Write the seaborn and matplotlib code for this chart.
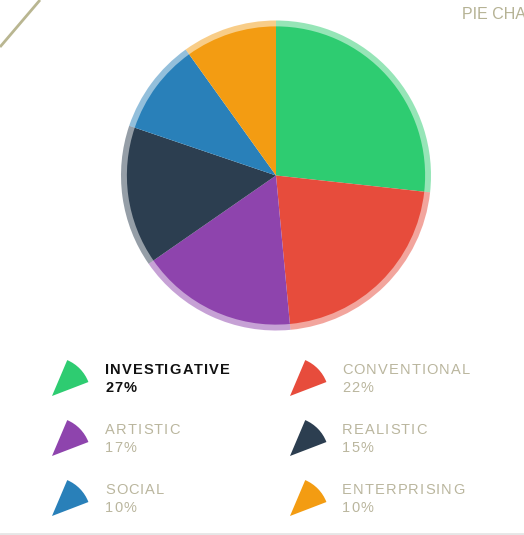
import matplotlib
matplotlib.use("Agg")
import matplotlib.pyplot as plt
from matplotlib.patches import Wedge
import seaborn as sns

# data
labels = ["INVESTIGATIVE", "CONVENTIONAL", "ARTISTIC", "REALISTIC", "SOCIAL", "ENTERPRISING"]
shares = [27, 22, 17, 15, 10, 10]
# pie order (clockwise from 12 o'clock)
pie_order = ["INVESTIGATIVE", "CONVENTIONAL", "ARTISTIC", "REALISTIC", "SOCIAL", "ENTERPRISING"]
palette = sns.color_palette(["#2ecc71", "#e74c3c", "#8e44ad", "#2c3e50", "#2980b9", "#f39c12"])
highlight = "INVESTIGATIVE"
title_text = "PIE CHART"

sns.set_theme(style="white")
plt.rcParams["font.family"] = ["Liberation Sans", "DejaVu Sans"]

W, H = 524, 535
fig = plt.figure(figsize=(W / 100, H / 100), dpi=100)
fig.patch.set_facecolor("white")
renderer = fig.canvas.get_renderer()

# overlay axes in pixel coords (y measured from top)
ov = fig.add_axes([0, 0, 1, 1])
ov.set_xlim(0, W)
ov.set_ylim(H, 0)
ov.axis("off")


def spaced_text(x, y, s, spacing=1.1, **kw):
    # letter-spaced text, one glyph at a time
    for ch in s:
        t = ov.text(x, y, ch, va="baseline", ha="left", **kw)
        w = t.get_window_extent(renderer).width
        if ch == " ":
            w = kw.get("fontsize", 10) * 0.4
        x += w + spacing


# pie axes
cx, cy, r_out = 276, 175.5, 155
pax = fig.add_axes([(cx - r_out) / W, 1 - (cy + r_out) / H, 2 * r_out / W, 2 * r_out / H])
vals = [shares[labels.index(n)] for n in pie_order]
cols = [palette[labels.index(n)] for n in pie_order]
pax.pie(vals, colors=cols, startangle=90, counterclock=False, radius=1.0,
        wedgeprops=dict(width=0.045, alpha=0.5, linewidth=0))
pax.pie(vals, colors=cols, startangle=90, counterclock=False, radius=0.962,
        wedgeprops=dict(linewidth=0))
pax.set_xlim(-1, 1)
pax.set_ylim(-1, 1)
pax.set_aspect("equal")
pax.axis("off")

# decorations
ov.plot([0, 40], [47, 0], color="#b9b691", lw=2, solid_capstyle="butt")
ov.text(462, 19, title_text, fontsize=11.5, color="#b5b294", va="baseline", ha="left")
ov.plot([0, W], [534, 534], color="#e6e6e6", lw=2)

# legend
legend_pos = [(52, 396, 105), (290, 396, 342),
              (52, 456, 105), (290, 456, 342),
              (52, 516, 105), (290, 516, 342)]
for (name, val, col), (ix, iy, tx) in zip(zip(labels, shares, palette), legend_pos):
    ov.add_patch(Wedge((ix, iy), 39, -67, -21, color=col, lw=0))
    if name == highlight:
        tc, fw = "#111111", "bold"
    else:
        tc, fw = "#bab69e", "normal"
    spaced_text(tx, iy - 22, name, fontsize=10.5, color=tc, fontweight=fw)
    spaced_text(tx, iy - 3.5, f"{val}%", fontsize=10.5, color=tc, fontweight=fw)

fig.savefig("out.png", dpi=100)
